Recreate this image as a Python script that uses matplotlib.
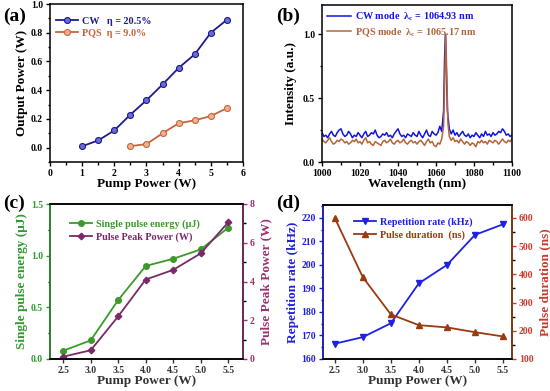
import matplotlib.pyplot as plt
from matplotlib.ticker import MultipleLocator

plt.rcParams['font.family'] = ['Liberation Serif', 'DejaVu Serif']
plt.rcParams['font.weight'] = 'bold'
plt.rcParams['axes.labelweight'] = 'bold'
plt.rcParams['mathtext.fontset'] = 'custom'
plt.rcParams['mathtext.bf'] = 'Liberation Serif:bold'
plt.rcParams['mathtext.rm'] = 'Liberation Serif:bold'

# (a) output power
pump_cw = [1.0, 1.5, 2.0, 2.5, 3.0, 3.5, 4.0, 4.5, 5.0, 5.5]
out_cw = [0.01, 0.05, 0.12, 0.23, 0.33, 0.44, 0.555, 0.65, 0.80, 0.89]
pump_pqs = [2.5, 3.0, 3.5, 4.0, 4.5, 5.0, 5.5]
out_pqs = [0.01, 0.025, 0.10, 0.17, 0.19, 0.22, 0.275]

# (b) spectra
wl_cw = list(range(1000, 1064)) + [1064, 1064.5, 1064.93, 1065.5, 1066] + list(range(1067, 1101))
int_cw = [0.23, 0.20, 0.21, 0.19, 0.22, 0.24, 0.21, 0.20, 0.23, 0.25,
          0.26, 0.22, 0.20, 0.21, 0.24, 0.22, 0.19, 0.21, 0.20, 0.23,
          0.21, 0.19, 0.22, 0.24, 0.20, 0.21, 0.23, 0.22, 0.25, 0.21,
          0.19, 0.20, 0.22, 0.21, 0.23, 0.20, 0.21, 0.19, 0.22, 0.24,
          0.26, 0.22, 0.20, 0.21, 0.19, 0.22, 0.21, 0.20, 0.23, 0.21,
          0.20, 0.24, 0.21, 0.19, 0.22, 0.25, 0.21, 0.20, 0.24, 0.22,
          0.21, 0.23, 0.28, 0.24,
          0.40, 0.80, 1.0, 0.70, 0.40,
          0.26, 0.22, 0.25,
          0.21, 0.23, 0.20, 0.22, 0.24, 0.21, 0.20, 0.22, 0.19, 0.21,
          0.20, 0.23, 0.21, 0.19, 0.22, 0.20, 0.24, 0.21, 0.22, 0.20,
          0.23, 0.21, 0.22, 0.24, 0.23, 0.26, 0.24, 0.21, 0.22, 0.20, 0.21]
wl_pqs = list(range(1000, 1064)) + [1064, 1064.6, 1065.17, 1065.7, 1066.3] + list(range(1067, 1101))
int_pqs = [0.18, 0.16, 0.15, 0.17, 0.19, 0.16, 0.14, 0.15, 0.17, 0.16,
           0.18, 0.17, 0.15, 0.16, 0.14, 0.15, 0.17, 0.16, 0.18, 0.15,
           0.16, 0.14, 0.17, 0.19, 0.15, 0.16, 0.14, 0.13, 0.16, 0.15,
           0.14, 0.13, 0.16, 0.17, 0.15, 0.16, 0.18, 0.15, 0.14, 0.16,
           0.17, 0.15, 0.16, 0.18, 0.15, 0.14, 0.16, 0.17, 0.15, 0.16,
           0.14, 0.16, 0.17, 0.15, 0.13, 0.16, 0.18, 0.15, 0.16, 0.13,
           0.12, 0.15, 0.14, 0.18,
           0.28, 0.65, 1.0, 0.65, 0.30,
           0.20, 0.17, 0.19,
           0.16, 0.17, 0.15, 0.18, 0.16, 0.14, 0.16, 0.15, 0.13, 0.15,
           0.14, 0.12, 0.16, 0.15, 0.17, 0.15, 0.16, 0.14, 0.17, 0.16,
           0.15, 0.17, 0.16, 0.14, 0.16, 0.18, 0.16, 0.15, 0.17, 0.16, 0.18]

# (c) pulse energy / peak power
pump_q = [2.5, 3.0, 3.5, 4.0, 4.5, 5.0, 5.5]
energy = [0.08, 0.18, 0.57, 0.90, 0.97, 1.06, 1.27]
peak_power = [0.12, 0.45, 2.2, 4.1, 4.6, 5.45, 7.05]

# (d) repetition rate / pulse duration
rep_rate = [166.5, 169.3, 175.2, 192.2, 200.0, 212.8, 217.3]
duration = [600, 390, 258, 220, 212, 195, 180]

W, H = 550, 391
fig = plt.figure(figsize=(5.5, 3.91), dpi=100)

LAB = 9.5


def add_ax(l, r, t, b):
    return fig.add_axes([l / W, (H - b) / H, (r - l) / W, (b - t) / H])


def style(ax, right=False):
    for s in ax.spines.values():
        s.set_linewidth(1.1)
    ax.tick_params(which='both', direction='out', labelsize=7, width=1.0, pad=2)
    ax.tick_params(which='major', length=3)
    ax.tick_params(which='minor', length=1.8)
    if not right:
        ax.tick_params(top=False, right=False)


leg_kw = dict(frameon=False, fontsize=7.3, handlelength=2.2, handletextpad=0.4,
              borderaxespad=0.2, labelspacing=0.3)

# ---- (a)
ax = add_ax(50, 243, 4, 162)
ax.plot(pump_cw, out_cw, '-o', color='#1c1c8c', lw=1.3, ms=4.3,
        mfc='#6a6ad8', mec='#1c1c8c', mew=0.8, label='CW   η = 20.5%')
ax.plot(pump_pqs, out_pqs, '-o', color='#c8643c', lw=1.3, ms=4.3,
        mfc='#f2b090', mec='#c8643c', mew=0.8, label='PQS  η = 9.0%')
ax.set_xlim(0, 6)
ax.set_ylim(-0.1, 1.0)
ax.xaxis.set_major_locator(MultipleLocator(1))
ax.xaxis.set_minor_locator(MultipleLocator(0.5))
ax.yaxis.set_major_locator(MultipleLocator(0.2))
ax.yaxis.set_minor_locator(MultipleLocator(0.1))
ax.set_xlabel('Pump Power (W)', fontsize=LAB, labelpad=0)
ax.set_ylabel('Output Power (W)', fontsize=LAB, labelpad=2)
style(ax)
leg = ax.legend(loc='upper left', bbox_to_anchor=(0.0, 0.96), **leg_kw)
for t, c in zip(leg.get_texts(), ['#1c1c8c', '#c8643c']):
    t.set_color(c)
fig.text(3 / W, 1 - 16 / H, '(a)', fontsize=14, fontweight='bold', va='center')

# ---- (b)
ax = add_ax(322, 512, 5, 162)
ax.plot(wl_cw, int_cw, color='#1414e0', lw=1.1,
        label=r'CW mode  λ$_\mathbf{c}$ = 1064.93 nm')
ax.plot(wl_pqs, int_pqs, color='#b4643c', lw=1.1,
        label=r'PQS mode  λ$_\mathbf{c}$ = 1065.17 nm')
ax.set_xlim(1000, 1100)
ax.set_ylim(0, 1.23)
ax.xaxis.set_major_locator(MultipleLocator(20))
ax.xaxis.set_minor_locator(MultipleLocator(10))
ax.yaxis.set_major_locator(MultipleLocator(0.5))
ax.yaxis.set_minor_locator(MultipleLocator(0.25))
ax.set_xlabel('Wavelength (nm)', fontsize=LAB, labelpad=0)
ax.set_ylabel('Intensity (a.u.)', fontsize=LAB, labelpad=4)
style(ax)
leg = ax.legend(loc='upper left', **dict(leg_kw, handlelength=2.4, borderaxespad=0.1))
for t, c in zip(leg.get_texts(), ['#1414e0', '#b4643c']):
    t.set_color(c)
fig.text(276 / W, 1 - 16 / H, '(b)', fontsize=14, fontweight='bold', va='center')

# ---- (c)
ax = add_ax(50, 243, 204, 359)
ax2 = ax.twinx()
l1, = ax.plot(pump_q, energy, '-o', color='#3a9a2a', lw=1.3, ms=4,
              label='Single pulse energy (μJ)')
l2, = ax2.plot(pump_q, peak_power, '-D', color='#7a2a6a', lw=1.3, ms=3.3,
               label='Pulse Peak Power (W)')
ax.set_xlim(2.26, 5.77)
ax.set_ylim(0, 1.5)
ax2.set_ylim(0, 8)
ax.xaxis.set_major_locator(MultipleLocator(0.5))
ax.yaxis.set_major_locator(MultipleLocator(0.5))
ax.yaxis.set_minor_locator(MultipleLocator(0.25))
ax2.yaxis.set_major_locator(MultipleLocator(2))
ax2.yaxis.set_minor_locator(MultipleLocator(1))
ax.set_xlabel('Pump Power (W)', fontsize=LAB, labelpad=0)
ax.set_ylabel('Single pulse energy (μJ)', fontsize=LAB, color='#2e9a2e', labelpad=2)
ax2.set_ylabel('Pulse Peak Power (W)', fontsize=LAB, color='#a03070', labelpad=4)
style(ax)
style(ax2, right=True)
ax.tick_params(axis='y', colors='#2e9a2e')
ax.tick_params(axis='x', colors='#333333')
ax.xaxis.label.set_color('#333333')
ax2.tick_params(axis='y', colors='#a03070')
ax2.spines['left'].set_color('#2e9a2e')
ax2.spines['right'].set_color('#7a2a6a')
leg = ax.legend(handles=[l1, l2], loc='upper left',
                bbox_to_anchor=(0.07, 0.94), **leg_kw)
for t, c in zip(leg.get_texts(), ['#3a9a2a', '#7a2a6a']):
    t.set_color(c)
fig.text(3 / W, 1 - 203 / H, '(c)', fontsize=14, fontweight='bold', va='center')

# ---- (d)
ax = add_ax(323, 512, 205, 359)
ax2 = ax.twinx()
l1, = ax.plot(pump_q, rep_rate, '-v', color='#2020e0', lw=1.3, ms=4.3,
              label='Repetition rate (kHz)')
l2, = ax2.plot(pump_q, duration, '-^', color='#9a3a10', lw=1.3, ms=4.3,
               label='Pulse duration  (ns)')
ax.set_xlim(2.29, 5.66)
ax.set_ylim(160, 225.5)
ax2.set_ylim(100, 646)
ax.xaxis.set_major_locator(MultipleLocator(0.5))
ax.yaxis.set_major_locator(MultipleLocator(10))
ax.yaxis.set_minor_locator(MultipleLocator(5))
ax2.yaxis.set_major_locator(MultipleLocator(100))
ax2.yaxis.set_minor_locator(MultipleLocator(50))
ax.set_xlabel('Pump Power (W)', fontsize=LAB, labelpad=0)
ax.set_ylabel('Repetition rate (kHz)', fontsize=LAB, color='#2020e0', labelpad=2)
ax2.set_ylabel('Pulse duration (ns)', fontsize=LAB, color='#c83a2a', labelpad=4)
style(ax)
style(ax2, right=True)
ax.tick_params(axis='y', colors='#2020e0')
ax.tick_params(axis='x', colors='#333333')
ax.xaxis.label.set_color('#333333')
ax2.tick_params(axis='y', colors='#c83a2a')
ax2.spines['left'].set_color('#2020e0')
ax2.spines['right'].set_color('#9a3a10')
leg = ax.legend(handles=[l1, l2], loc='upper left',
                bbox_to_anchor=(0.13, 0.96), **leg_kw)
for t, c in zip(leg.get_texts(), ['#2020e0', '#9a3a10']):
    t.set_color(c)
fig.text(276 / W, 1 - 203 / H, '(d)', fontsize=14, fontweight='bold', va='center')

fig.savefig('out.png', dpi=100)
